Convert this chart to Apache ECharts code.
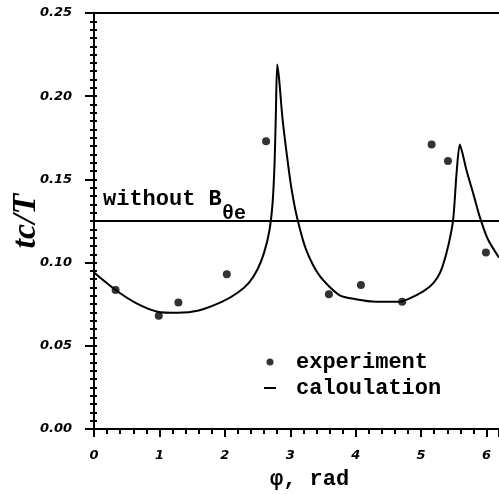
<!DOCTYPE html>
<html>
<head>
<meta charset="utf-8">
<script src="https://cdn.jsdelivr.net/npm/echarts@6/dist/echarts.min.js"></script>
<style>html,body{margin:0;padding:0;background:#fff}#c{width:499px;height:494px}</style>
</head>
<body>
<div id="c"></div>
<script>
// experimental points [phi, tc/T]
var experimentPts = [[0.33,0.0835],[0.99,0.068],[1.29,0.076],[2.03,0.093],[2.63,0.173],[3.59,0.081],[4.08,0.0865],[4.71,0.0765],[5.16,0.171],[5.41,0.161],[5.99,0.106]];
// calculated curve [phi, tc/T]
var calcCurve = [[0,0.094],[0.33,0.0835],[0.65,0.0755],[0.97,0.0705],[1.28,0.0698],[1.6,0.0712],[1.96,0.0765],[2.2,0.082],[2.37,0.088],[2.5,0.096],[2.6,0.106],[2.68,0.119],[2.73,0.136],[2.76,0.16],[2.78,0.19],[2.80,0.219],[2.83,0.21],[2.88,0.187],[2.95,0.164],[3.02,0.144],[3.11,0.126],[3.24,0.108],[3.45,0.092],[3.75,0.0805],[4.0,0.078],[4.31,0.0765],[4.67,0.0765],[4.93,0.0805],[5.13,0.0855],[5.25,0.091],[5.33,0.098],[5.42,0.111],[5.49,0.126],[5.54,0.153],[5.59,0.171],[5.63,0.166],[5.69,0.156],[5.80,0.141],[5.90,0.127],[6.02,0.114],[6.19,0.103]];
// level without B_theta_e
var withoutLevel = 0.125;
var xTicks = ['0','1','2','3','4','5','6'];
var yTicks = ['0.00','0.05','0.10','0.15','0.20','0.25'];
var legendNames = ['experiment','caloulation'];

var chart = echarts.init(document.getElementById('c'), null, {renderer:'canvas'});
var lblFont = {fontFamily:'DejaVu Sans', fontWeight:'bold', fontStyle:'italic', fontSize:13, color:'#000'};
var monoFont = 'bold 22px "Liberation Mono"';
chart.setOption({
  animation:false,
  backgroundColor:'#fff',
  grid:{left:94, top:13, right:0, bottom:65, containLabel:false, outerBoundsMode:'none'},
  legend:{
    left:259, top:346, orient:'vertical', itemGap:4, itemWidth:12, itemHeight:7,
    textStyle:{fontFamily:'Liberation Mono', fontWeight:'bold', fontSize:22, color:'#000', padding:[0,0,0,15], lineHeight:22},
    data:[{name:legendNames[0], icon:'circle'},{name:legendNames[1], icon:'path://M0,0L12,0L12,2L0,2Z'}]
  },
  xAxis:[{
    type:'value', min:0, max:6.19, interval:1,
    axisLine:{show:true, onZero:false, lineStyle:{color:'#000', width:2}},
    axisTick:{show:true, length:8, lineStyle:{color:'#000', width:2}},
    minorTick:{show:true, splitNumber:5, length:5, lineStyle:{color:'#000', width:2}},
    splitLine:{show:false},
    axisLabel:Object.assign({margin:20, showMaxLabel:false, hideOverlap:false, formatter:function(v){var i=Math.round(v); return (Math.abs(v-i)<1e-6 && xTicks[i]!==undefined)?xTicks[i]:'';}}, lblFont)
  },{
    type:'value', position:'top', min:0, max:6.19,
    axisLine:{show:true, onZero:false, lineStyle:{color:'#000', width:2}},
    axisTick:{show:false}, axisLabel:{show:false}, splitLine:{show:false}
  }],
  yAxis:[{
    type:'value', min:0, max:0.25, interval:0.05,
    name:'tc/T', nameLocation:'middle', nameGap:51, nameMoveOverlap:false,
    nameTextStyle:{fontFamily:'Liberation Serif', fontWeight:'bold', fontStyle:'italic', fontSize:34, color:'#000'},
    axisLine:{show:true, onZero:false, lineStyle:{color:'#000', width:2}},
    axisTick:{show:true, length:9, lineStyle:{color:'#000', width:2}},
    minorTick:{show:true, splitNumber:10, length:4, lineStyle:{color:'#000', width:2}},
    splitLine:{show:false},
    axisLabel:Object.assign({margin:22, formatter:function(v){var i=Math.round(v/0.05); return yTicks[i]||'';}}, lblFont)
  },{
    type:'value', position:'left', min:0, max:0.25, interval:0.05,
    axisLine:{show:false},
    axisTick:{show:true, inside:true, length:3, lineStyle:{color:'#000', width:2}},
    minorTick:{show:true, splitNumber:10, length:3, lineStyle:{color:'#000', width:2}},
    axisLabel:{show:false}, splitLine:{show:false}
  }],
  graphic:[
    {type:'text', left:103, top:188, style:{text:'without B', font:monoFont, fill:'#000'}},
    {type:'text', left:222, top:204, style:{text:'θe', font:'bold 20px "Liberation Mono"', fill:'#000'}},
    {type:'text', left:270, top:468, style:{text:'φ, rad', font:monoFont, fill:'#000'}}
  ],
  series:[
    {name:legendNames[0], type:'scatter', data:experimentPts, symbol:'circle', symbolSize:8, itemStyle:{color:'#000'}, z:5},
    {name:legendNames[1], type:'line', data:calcCurve, showSymbol:false, symbol:'none', smooth:0.25,
     lineStyle:{color:'#000', width:2}, itemStyle:{color:'#000'},
     markLine:{silent:true, symbol:'none', precision:4, label:{show:false}, lineStyle:{color:'#000', width:2, type:'solid'}, data:[{yAxis:withoutLevel}]}}
  ]
});
</script>
</body>
</html>
